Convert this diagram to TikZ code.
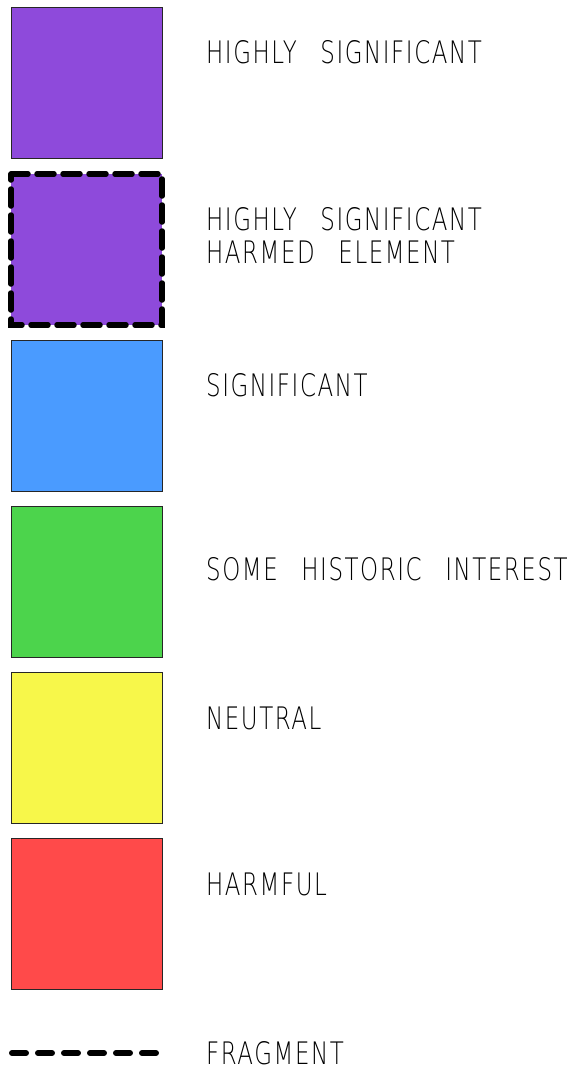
\documentclass[tikz,border=0pt]{standalone}
\usepackage{fontspec}
\newfontfamily\lab{DejaVu Sans}[UprightFont={* ExtraLight},FakeStretch=0.74,LetterSpace=5]
\definecolor{cpurple}{RGB}{142,74,219}
\definecolor{cblue}{RGB}{74,155,255}
\definecolor{cgreen}{RGB}{76,212,76}
\definecolor{cyellow}{RGB}{247,247,74}
\definecolor{cred}{RGB}{255,74,74}
\newcommand{\wsp}{\ \ \hspace{6pt}}
\begin{document}
\begin{tikzpicture}[x=1pt,y=-1pt,
  swatch/.style={draw=black!85,line width=0.8pt,minimum width=151pt,minimum height=151pt,inner sep=0pt,anchor=north west,outer sep=0pt},
  harmed/.style={draw=black,line width=5.5pt,line cap=round,dash pattern=on 17pt off 9pt},
  label/.style={anchor=base west,inner sep=0pt,font=\lab\fontsize{31}{33}\selectfont,align=left}]
\useasboundingbox (0,0) rectangle (574,1071);
\node[swatch,fill=cpurple] (b1) at (11,7) {};
\node[swatch,draw=none,fill=cpurple] (b2) at (11,174) {};
\draw[harmed] (b2.north west) -- (b2.north east) -- (b2.south east) -- (b2.south west) -- cycle;
\node[swatch,fill=cblue] (b3) at (11,340) {};
\node[swatch,fill=cgreen] (b4) at (11,506) {};
\node[swatch,fill=cyellow] (b5) at (11,672) {};
\node[swatch,fill=cred] (b6) at (11,838) {};
\coordinate (f1) at (12,1053);
\coordinate (f2) at (160,1053);
\draw[line width=6pt,line cap=round,dash pattern=on 14pt off 12pt] (f1) -- (f2);
\node[label] (t1) at (206,63) {HIGHLY\wsp SIGNIFICANT};
\node[label] (t2) at (206,230) {HIGHLY\wsp SIGNIFICANT};
\node[label] (t2b) at (206,263) {HARMED\wsp ELEMENT};
\node[label] (t3) at (206,396) {SIGNIFICANT};
\node[label] (t4) at (206,580) {SOME\wsp HISTORIC\wsp INTEREST};
\node[label] (t5) at (206,729) {NEUTRAL};
\node[label] (t6) at (206,895) {HARMFUL};
\node[label] (t7) at (206,1064) {FRAGMENT};
\end{tikzpicture}
\end{document}
